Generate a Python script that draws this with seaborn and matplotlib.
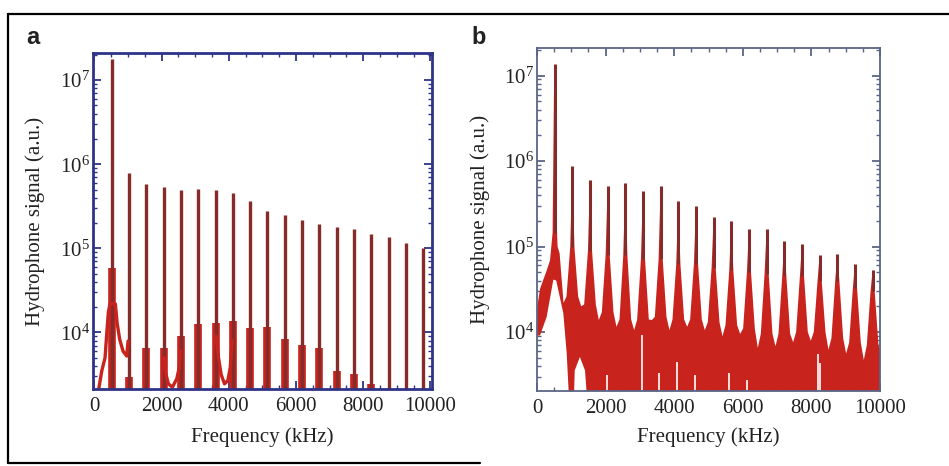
import numpy as np
import matplotlib
matplotlib.use("Agg")
import matplotlib.pyplot as plt
import seaborn as sns
from matplotlib.lines import Line2D
from matplotlib.ticker import LogLocator, MultipleLocator, NullFormatter, LogFormatterSciNotation

# ---------------- data ----------------
harm_freq = [515, 1030, 1545, 2060, 2575, 3090, 3605, 4120, 4635, 5150,
             5665, 6180, 6695, 7210, 7725, 8240, 8755, 9270, 9785]

# panel a: spike heights and red pedestal heights at each harmonic
a_peak = [1.8e7, 7.9e5, 5.9e5, 5.4e5, 4.9e5, 5.1e5, 4.9e5, 4.5e5, 3.7e5, 2.75e5,
          2.5e5, 2.2e5, 1.95e5, 1.8e5, 1.7e5, 1.5e5, 1.35e5, 1.17e5, 1.02e5]
a_base = [5.9e4, 2950, 6600, 6500, 9100, 12600, 12900, 13800, 11200, 11500,
          8300, 7100, 6600, 3470, 3240, 2450, np.nan, np.nan, np.nan]
# broad resonance around the fundamental (panel a)
a_bump_f = [117, 217, 316, 366, 415, 465, 624, 673, 752, 852, 962, 1002]
a_bump_v = [2000, 3470, 5000, 9500, 17400, 21900, 21900, 13200, 8300, 6000, 5250, 7900]
# small humps between harmonics (panel a)
a_hump1_f = [2080, 2104, 2203, 2322, 2452, 2522, 2560]
a_hump1_v = [5000, 3470, 2450, 2240, 2820, 3800, 6000]
a_hump2_f = [3620, 3694, 3773, 3872, 3972, 4042, 4100]
a_hump2_v = [9000, 5000, 3160, 2450, 2690, 3800, 8000]

# panel b: spike heights, knee (spike meets skirt), skirt level and valley floors
b_peak = [1.37e7, 8.8e5, 6.0e5, 5.1e5, 5.6e5, 4.5e5, 5.1e5, 3.4e5, 2.95e5, 2.2e5,
          2.0e5, 1.6e5, 1.6e5, 1.15e5, 1.07e5, 7.9e4, 8.2e4, 6.3e4, 5.3e4]
b_knee = [1.45e5, 1.0e5, 8.9e4, 7.9e4, 7.9e4, 7.1e4, 7.1e4, 6.3e4, 6.3e4, 5.6e4,
          5.25e4, 5.0e4, 4.8e4, 4.5e4, 4.5e4, 4.0e4, 4.0e4, 3.3e4, 3.0e4]
b_skirt = [np.nan, 26000, 21000, 17000, 14000, 14000, 15000, 14000, 14000, 13000,
           12000, 11000, 9500, 9500, 10000, 10000, 8500, 7500, 7000]
b_valley = [21900, 20000, 13800, 11500, 10500, 13800, 10500, 11500, 10500, 8900,
            9500, 6500, 6800, 7600, 7900, 6200, 5600, 4700, 6200]
# fundamental region of panel b (upper edge)
b_h1_f = [0, 90, 185, 280, 380, 455, 495, 508, 515, 522, 545, 600, 660, 720, 745]
b_h1_v = [19000, 32000, 41000, 52000, 69000, 1.45e5, 6.2e6, 6.2e6, 1.37e7, 4e5,
          4e5, 1.0e5, 8.3e4, 4.1e4, 3.1e4]
# lower edge of the filled noise band (white areas below it)
b_low_f = [0, 87, 282, 476, 560, 767, 866, 962, 1060, 1100, 1250, 1400, 1500, 10000]
b_low_v = [9100, 9100, 15000, 41000, 40000, 16600, 5600, 1000, 1000, 3550, 5100,
           3550, 1000, 1000]
# thin white gaps in the noise floor of panel b
b_gap_f = [2032, 3052, 3566, 4073, 4606, 5607, 6132, 8200, 8250]
b_gap_top = [3160, 9100, 3300, 4470, 3160, 3300, 2750, 5600, 4300]

xticks = [0, 2000, 4000, 6000, 8000, 10000]

# ---------------- style ----------------
sns.set_theme(style="ticks")
plt.rcParams["font.family"] = ["Liberation Serif", "DejaVu Serif"]
plt.rcParams["mathtext.fontset"] = "custom"
plt.rcParams["mathtext.rm"] = "Liberation Serif"
plt.rcParams["mathtext.it"] = "Liberation Serif:italic"
plt.rcParams["text.color"] = "#222222"
plt.rcParams["axes.labelcolor"] = "#222222"
plt.rcParams["xtick.color"] = "#222222"
plt.rcParams["ytick.color"] = "#222222"

RED = "#c9231d"
DARK = "#852b29"

fig = plt.figure(figsize=(9.49, 4.66), dpi=100)
axa = fig.add_axes([93 / 949, 1 - 389 / 466, 339 / 949, 336 / 466])
axb = fig.add_axes([537 / 949, 1 - 391 / 466, 343 / 949, 343 / 466])

# ---------------- panel a ----------------
axa.set_yscale("log")
axa.vlines(harm_freq, 1000, a_base, color=RED, lw=5.5)
axa.vlines(harm_freq, 1000, a_peak, color=DARK, lw=2.4)
for fx, fv in [(a_bump_f, a_bump_v), (a_hump1_f, a_hump1_v), (a_hump2_f, a_hump2_v)]:
    sns.lineplot(x=fx, y=fv, ax=axa, color=RED, lw=2.4, sort=False, estimator=None)
axa.set_xlim(-42, 10048)
axa.set_ylim(2130, 2.1e7)

# ---------------- panel b ----------------
axb.set_yscale("log")
env_f = list(b_h1_f)
env_v = list(b_h1_v)
for i in range(1, len(harm_freq)):
    f = harm_freq[i]
    env_f += [(harm_freq[i - 1] + f) / 2, f - 170, f - 60, f, f + 60, f + 170]
    env_v += [b_valley[i - 1], b_skirt[i], b_knee[i], b_peak[i], b_knee[i], b_skirt[i]]
env_f.append(10000)
env_v.append(b_valley[-1])
poly_f = env_f + b_low_f[::-1]
poly_v = env_v + b_low_v[::-1]
axb.fill(poly_f, poly_v, color=RED, lw=0)
axb.vlines(b_gap_f, 1000, b_gap_top, color="white", lw=1.2)
axb.vlines(harm_freq, b_knee, b_peak, color=DARK, lw=2.2)
axb.set_xlim(0, 10000)
axb.set_ylim(2040, 2.1e7)

# ---------------- axes decoration ----------------
for ax, col, slw, lx, ly in [(axa, "#2f3388", 2.0, -0.142, -0.113),
                              (axb, "#5b6585", 1.3, -0.137, -0.105)]:
    ax.yaxis.set_major_locator(LogLocator(base=10, numticks=12))
    ax.yaxis.set_minor_locator(LogLocator(base=10, subs=np.arange(2, 10), numticks=12))
    ax.yaxis.set_major_formatter(LogFormatterSciNotation())
    ax.yaxis.set_minor_formatter(NullFormatter())
    ax.set_xticks(xticks)
    ax.xaxis.set_minor_locator(MultipleLocator(500))
    ax.tick_params(which="both", direction="in", top=True, right=True, color=col)
    ax.tick_params(which="major", length=6, width=1.3, labelsize=15)
    ax.tick_params(which="minor", length=3, width=1.0)
    ax.tick_params(axis="x", which="major", pad=6)
    ax.tick_params(axis="y", which="major", pad=2)
    for s in ax.spines.values():
        s.set_color(col)
        s.set_linewidth(slw)
    ax.set_xlabel("Frequency (kHz)", fontsize=15)
    ax.set_ylabel("Hydrophone signal (a.u.)", fontsize=15)
    ax.xaxis.set_label_coords(0.5, ly)
    ax.yaxis.set_label_coords(lx, 0.5)

# panel letters
fig.text(33 / 949, 1 - 38 / 466, "a", fontsize=17, fontweight="bold",
         family="Liberation Sans", ha="center", va="center", color="#222222")
fig.text(479 / 949, 1 - 38 / 466, "b", fontsize=17, fontweight="bold",
         family="Liberation Sans", ha="center", va="center", color="#222222")

# frame around figure (left, top, bottom-left part)
x0, ytop, ybot = 8 / 949, 1 - 14 / 466, 1 - 463 / 466
for xs, ys in [([x0, 1.0], [ytop, ytop]), ([x0, x0], [ybot, ytop]), ([x0, 480 / 949], [ybot, ybot])]:
    fig.add_artist(Line2D(xs, ys, color="black", lw=1.6, transform=fig.transFigure))

fig.savefig("out.png", dpi=100)
